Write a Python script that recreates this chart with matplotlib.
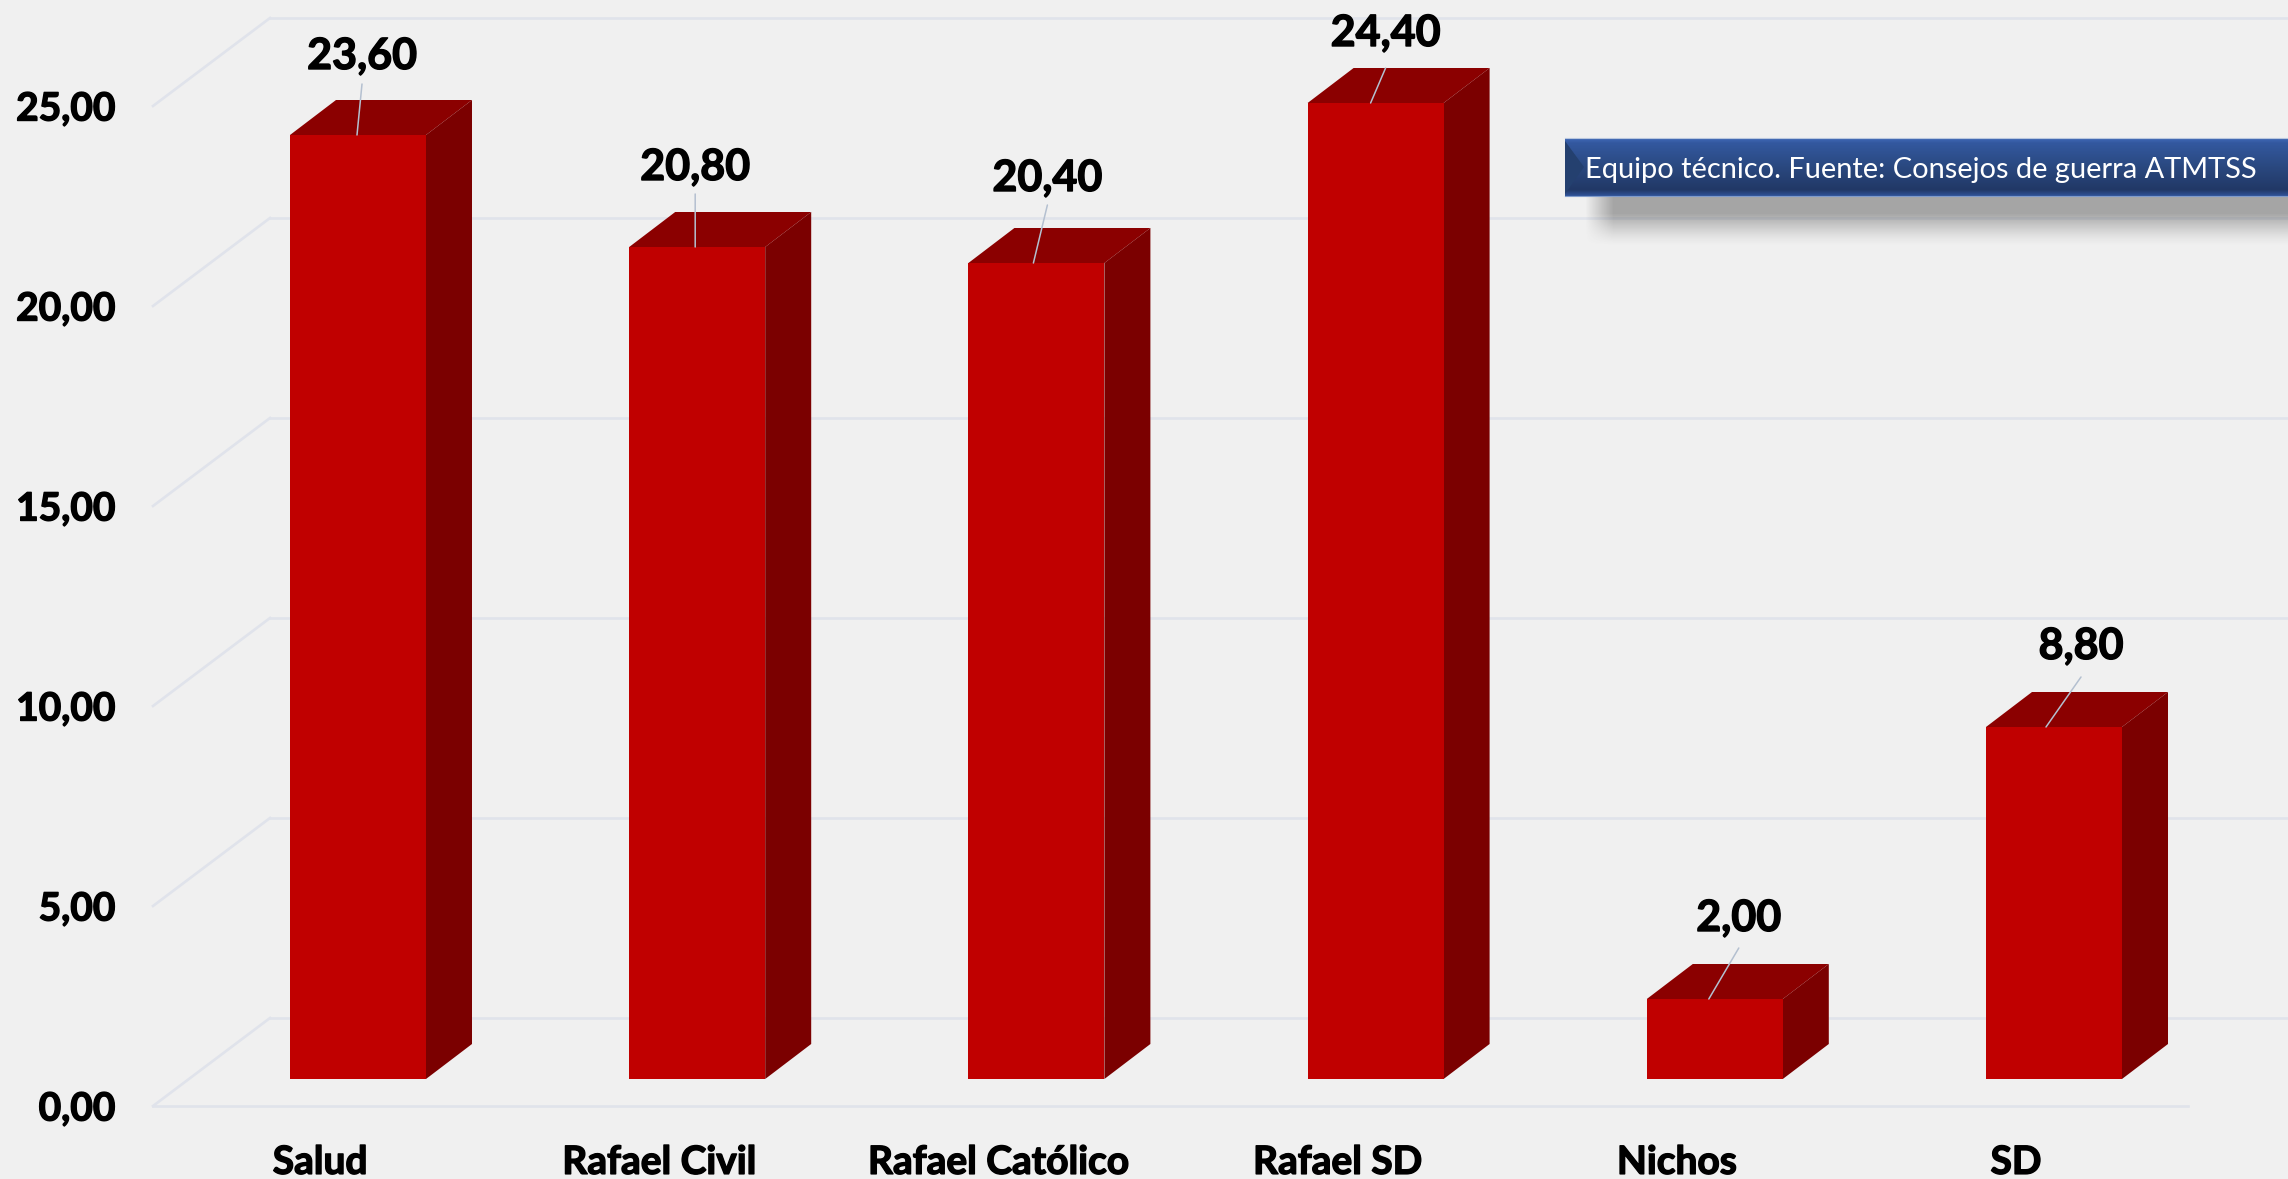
import numpy as np
import matplotlib
matplotlib.use('Agg')
import matplotlib.pyplot as plt
import matplotlib.patheffects as pe

plt.rcParams['font.family'] = ['Lato', 'DejaVu Sans']

# -----------------------------
# Data
# -----------------------------
categories = ['Salud', 'Rafael Civil', 'Rafael Católico', 'Rafael SD', 'Nichos', 'SD']
values = [23.60, 20.80, 20.40, 24.40, 2.00, 8.80]
value_labels = ['23,60', '20,80', '20,40', '24,40', '2,00', '8,80']
y_ticks = [0, 5, 10, 15, 20, 25]
y_tick_labels = ['0,00', '5,00', '10,00', '15,00', '20,00', '25,00']
note = 'Equipo técnico. Fuente: Consejos de guerra ATMTSS'

# -----------------------------
# Layout (pixels at dpi=100)
# -----------------------------
W, H = 2288, 1179
PX_X = 339.2        # one category
PX_Y = 40.0         # one unit

fig = plt.figure(figsize=(W / 100, H / 100), dpi=100, facecolor='#F0F0F0')
ax = fig.add_axes([153 / W, 1 - 1106 / H, (2188 - 153) / W, (PX_Y * 25) / H])
ax.set_facecolor('none')
ax.set_xlim(-205 / PX_X, (2188 - 358) / PX_X)
ax.set_ylim(0, 25)
for s in ax.spines.values():
    s.set_visible(False)

x = np.arange(len(categories))
bar_w = 136 / PX_X
base = 27 / PX_Y           # bars stand in front of the floor line
dep_x = 46 / PX_X
dep_y = 35 / PX_Y
back_x = 117 / PX_X
back_y = 88 / PX_Y

bold = [pe.withStroke(linewidth=1.0, foreground='black')]

# -----------------------------
# Grid: front lines + depth lines + back wall
# -----------------------------
grid_c = '#E0E3EB'
x0 = ax.get_xlim()[0]
for t in y_ticks:
    ax.plot([x0, x0 + back_x], [t, t + back_y], color=grid_c, lw=1.9, zorder=1, clip_on=False)
    ax.plot([x0 + back_x, 6.2], [t + back_y, t + back_y], color=grid_c, lw=1.9, zorder=1, clip_on=False)
ax.plot([x0, ax.get_xlim()[1]], [0, 0], color=grid_c, lw=1.9, zorder=1, clip_on=False)

# -----------------------------
# Bars
# -----------------------------
for xi, v in zip(x, values):
    l, r = xi - bar_w / 2, xi + bar_w / 2
    b, t = base, base + v
    ax.fill([l, r, r + dep_x, l + dep_x], [t, t, t + dep_y, t + dep_y], color='#8B0000', lw=0, zorder=2, clip_on=False)
    ax.fill([r, r + dep_x, r + dep_x, r], [b, b + dep_y, t + dep_y, t], color='#7B0000', lw=0, zorder=2, clip_on=False)
ax.bar(x, values, width=bar_w, bottom=base, color='#C00000', linewidth=0, zorder=3, clip_on=False)

# -----------------------------
# Value labels with leader lines (offsets in pixels)
# -----------------------------
anchor_dx = [-1, -2, -3, -5, -6, -8]
leader_dx = [5, 0, 14, 15, 30, 35]
leader_dy = [51, 53, 58, 35, 51, 50]
label_dy = [79, 80, 85, 70, 81, 81]

for i, v in enumerate(values):
    p = (x[i] + anchor_dx[i] / PX_X, base + v)
    ax.annotate('', xy=p, xytext=(leader_dx[i], leader_dy[i]), textcoords='offset pixels',
                arrowprops=dict(arrowstyle='-', color='#B4C0D0', lw=1.1, shrinkA=0, shrinkB=0),
                zorder=4, annotation_clip=False)
    ax.annotate(value_labels[i], xy=p, xytext=(leader_dx[i], label_dy[i]), textcoords='offset pixels',
                ha='center', va='center', fontsize=31, fontweight='bold', color='black',
                path_effects=bold, zorder=5, annotation_clip=False)

# -----------------------------
# Ticks
# -----------------------------
ax.set_yticks(y_ticks)
ax.set_yticklabels(y_tick_labels, fontsize=28, fontweight='bold', color='black', path_effects=bold)
ax.tick_params(axis='y', length=0, pad=27)
ax.set_xticks(x - 38 / PX_X)
ax.set_xticklabels(categories, fontsize=28, fontweight='bold', color='black', path_effects=bold)
ax.tick_params(axis='x', length=0, pad=28)

# -----------------------------
# Source box, drawn in figure pixels
# -----------------------------
ov = fig.add_axes([0, 0, 1, 1], facecolor='none')
ov.set_xlim(0, W)
ov.set_ylim(H, 0)
ov.axis('off')

# soft shadow under the box
sx = np.arange(1575, W)
sy = np.arange(190, 250)
fx = np.clip((sx - 1585) / 28, 0, 1)
fy = np.clip((245 - sy) / 32, 0, 1) ** 1.3
alpha = np.outer(fy, fx) * 0.44
shadow = np.zeros((len(sy), len(sx), 4))
shadow[..., :3] = 0.28
shadow[..., 3] = alpha
ov.imshow(shadow, extent=(1575, W, 250, 190), aspect='auto', zorder=10)

# blue band with a vertical gradient
stops_y = [0, 0.08, 0.5, 0.9, 1.0]
stops = np.array([[0x3F, 0x68, 0xB5], [0x33, 0x58, 0x9F], [0x2A, 0x48, 0x7F],
                  [0x21, 0x38, 0x66], [0x2F, 0x52, 0x97]]) / 255
t = np.linspace(0, 1, 58)
grad = np.stack([np.interp(t, stops_y, stops[:, c]) for c in range(3)], axis=1)[:, None, :]
ov.imshow(grad, extent=(1565, W, 196, 138), aspect='auto', zorder=11)
ov.fill([1565, 1584, 1584, 1565], [141, 167, 167, 194], color='#24406F', lw=0, zorder=12)
ov.plot([1565, W], [138, 138], color='#B9C7DE', lw=0.8, zorder=13)
ov.plot([1565, W], [196, 196], color='#7F9BCB', lw=0.8, zorder=13)
ov.set_xlim(0, W)
ov.set_ylim(H, 0)
ov.text(1585, 170, note, color='white', fontsize=20.9, va='center', ha='left', zorder=14)

plt.savefig('out.png', dpi=100, facecolor=fig.get_facecolor())
